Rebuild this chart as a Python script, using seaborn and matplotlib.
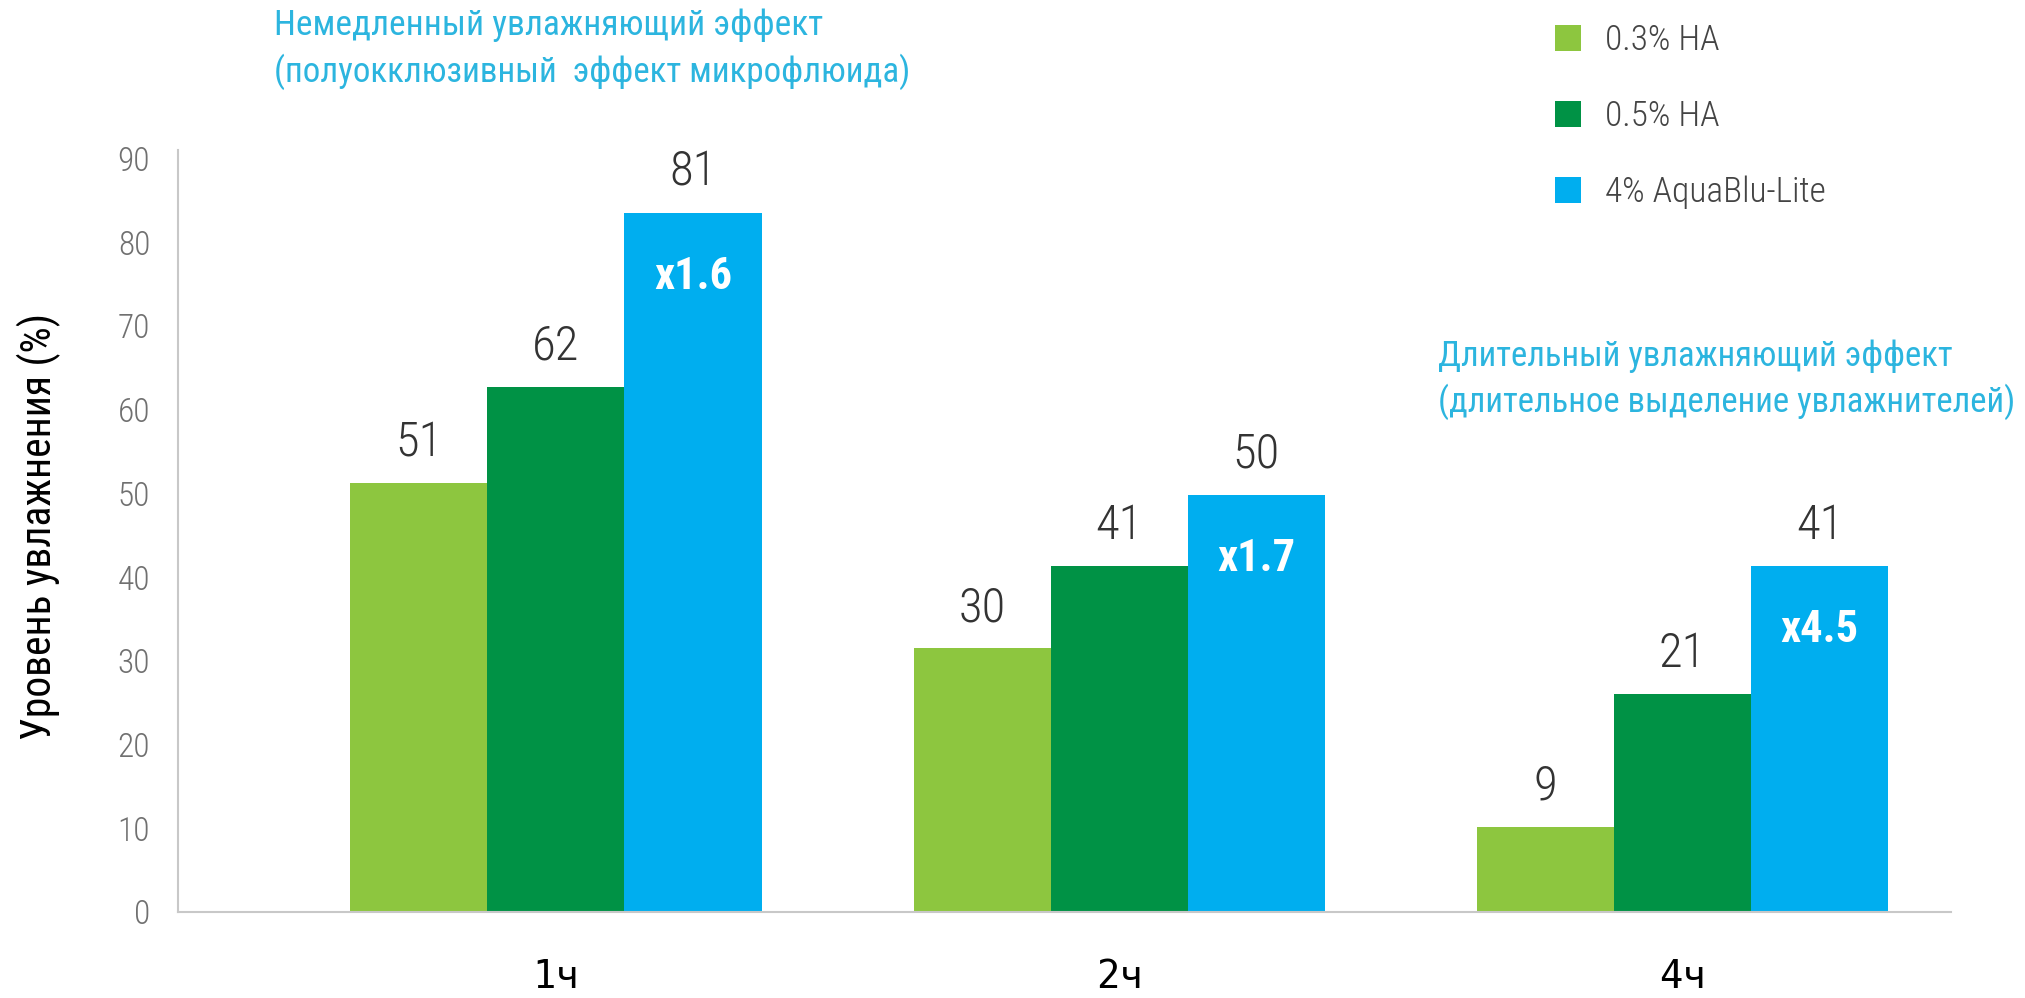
import numpy as np
import pandas as pd
import matplotlib
matplotlib.use("Agg")
import matplotlib.pyplot as plt
from matplotlib import font_manager as fm
import seaborn as sns

# ---------------- data ----------------
categories = ["1ч", "2ч", "4ч"]
series = ["0.3% HA", "0.5% HA", "4% AquaBlu-Lite"]
ha03_bar = [51.2, 31.5, 10.2]
ha05_bar = [62.7, 41.3, 26.0]
aquablu_bar = [83.5, 49.8, 41.3]
ha03_labels = ["51", "30", "9"]
ha05_labels = ["62", "41", "21"]
aquablu_labels = ["81", "50", "41"]
ratio_labels = ["x1.6", "x1.7", "x4.5"]
colors = ["#8DC63F", "#009245", "#00AEEF"]
title_left = ["Немедленный увлажняющий эффект", "(полуокклюзивный  эффект микрофлюида)"]
title_right = ["Длительный увлажняющий эффект", "(длительное выделение увлажнителей)"]
y_label = "Уровень увлажнения (%)"
y_ticks = [0, 10, 20, 30, 40, 50, 60, 70, 80, 90]

# ---------------- fonts ----------------
sns.set_theme(style="white")
avail = {f.name for f in fm.fontManager.ttflist}


def pick(cands, default="DejaVu Sans"):
    for c in cands:
        if c in avail:
            return c
    return default


NARROW = pick(["Liberation Sans Narrow", "DejaVu Sans Condensed", "Roboto Condensed",
               "Open Sans Condensed", "Roboto", "Liberation Sans"])
MONO = pick(["DejaVu Sans Mono", "Liberation Mono"])
plt.rcParams["font.family"] = [NARROW, "DejaVu Sans"]
plt.rcParams["font.stretch"] = "condensed"

# ---------------- plot ----------------
df = pd.DataFrame({
    "time": categories * 3,
    "series": np.repeat(series, len(categories)),
    "value": ha03_bar + ha05_bar + aquablu_bar,
})
value_labels = [ha03_labels, ha05_labels, aquablu_labels]

fig = plt.figure(figsize=(20.25, 9.98), dpi=100)
fig.patch.set_facecolor("white")
ax = fig.add_axes([0.0879, 0.0862, 0.8756, 0.7635])

sns.barplot(data=df, x="time", y="value", hue="series", order=categories,
            hue_order=series, palette=colors, width=0.73, saturation=1,
            errorbar=None, linewidth=0, ax=ax)

ax.set_xlim(-0.671, 2.477)
ax.set_ylim(0, 91)
ax.set_yticks(y_ticks)
ax.set_xlabel("")
ax.set_ylabel(y_label, fontsize=30, color="black", family=[NARROW, "DejaVu Sans"])
ax.yaxis.label.set_va("center")
ax.yaxis.set_label_coords(-0.0784, 0.5066)

for s in ["top", "right"]:
    ax.spines[s].set_visible(False)
for s in ["left", "bottom"]:
    ax.spines[s].set_color("#C8C8C8")
    ax.spines[s].set_linewidth(1.5)

ax.tick_params(axis="y", length=0, pad=20, labelsize=24, labelcolor="#707070")
ax.tick_params(axis="x", length=0, pad=33, labelsize=28, labelcolor="black")
for lbl in ax.get_yticklabels():
    lbl.set_fontweight("light")
for lbl in ax.get_xticklabels():
    lbl.set_fontfamily(MONO)
    lbl.set_fontstretch("normal")

# value labels and ratio labels
for i, cont in enumerate(ax.containers):
    for bar in cont:
        xc = bar.get_x() + bar.get_width() / 2
        h = bar.get_height()
        j = int(round(xc))
        ax.annotate(value_labels[i][j], (xc, h), xytext=(0, 29),
                    textcoords="offset points", ha="center", va="center",
                    fontsize=35, color="#333333", fontweight="light")
        if i == 2:
            ax.annotate(ratio_labels[j], (xc, h), xytext=(0, -46),
                        textcoords="offset points", ha="center", va="center",
                        fontsize=32, color="white", fontweight="bold")

# legend
old = ax.get_legend()
handles = list(old.legend_handles)
labels = [t.get_text() for t in old.get_texts()]
old.remove()
leg = ax.legend(handles, labels, loc="upper left", bbox_to_anchor=(0.768, 0.976),
                bbox_transform=fig.transFigure, frameon=False, fontsize=25.5,
                handlelength=0.72, handleheight=0.72, handletextpad=0.68,
                labelspacing=1.2, borderpad=0, borderaxespad=0, labelcolor="#444444")
for t in leg.get_texts():
    t.set_fontweight("light")

# header texts
tcol = "#2CB5DF"
fig.text(0.1353, 0.965, title_left[0], ha="left", va="baseline", fontsize=25.5, color=tcol)
fig.text(0.1353, 0.918, title_left[1], ha="left", va="baseline", fontsize=25.2, color=tcol)
fig.text(0.710, 0.633, title_right[0], ha="left", va="baseline", fontsize=25, color=tcol)
fig.text(0.710, 0.587, title_right[1], ha="left", va="baseline", fontsize=25, color=tcol)

fig.savefig("out.png", dpi=100, facecolor="white")
